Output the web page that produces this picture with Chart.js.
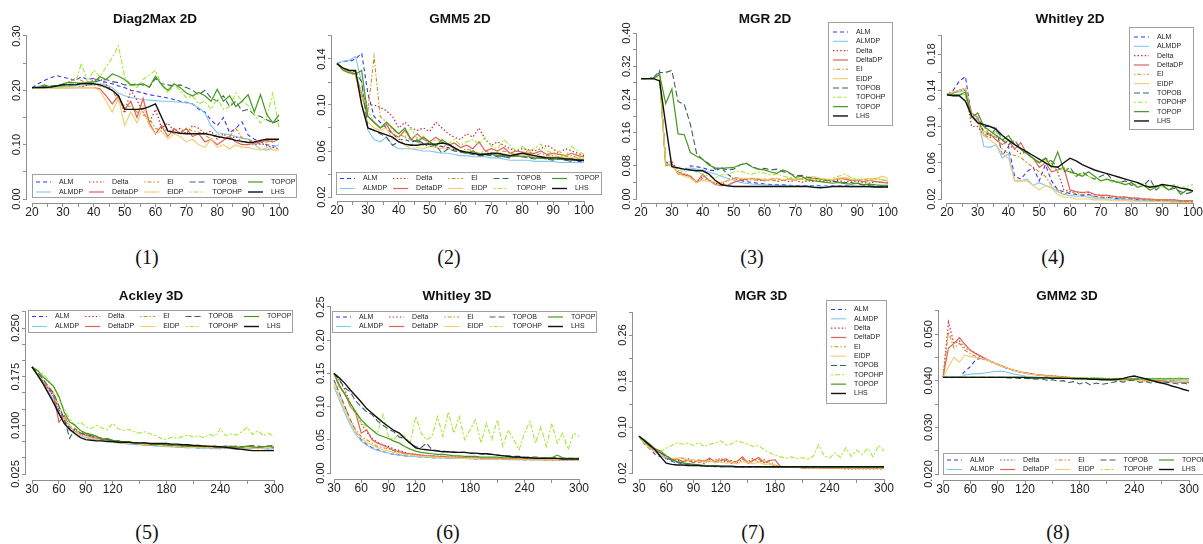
<!DOCTYPE html>
<html>
<head>
<meta charset="utf-8">
<script src="https://cdn.jsdelivr.net/npm/chart.js@4.4.1/dist/chart.umd.min.js"></script>
<style>
  html, body { margin: 0; padding: 0; background: #fff; }
  body { position: relative; width: 1203px; height: 544px; overflow: hidden; }
  canvas { position: absolute; }
  .cap { position: absolute; font: 20px "Liberation Serif", serif; color: #111; transform: translate(-50%, -50%); }
</style>
</head>
<body>
<script>
// ---- data ----
const methods = ['ALM', 'ALMDP', 'Delta', 'DeltaDP', 'EI', 'EIDP', 'TOPOB', 'TOPOHP', 'TOPOP', 'LHS'];

const x2d = [20,22,24,26,28,30,32,34,36,38,40,42,44,46,48,50,52,54,56,58,60,62,64,66,68,70,72,74,76,78,80,82,84,86,88,90,92,94,96,98,100];
const x3d = [30,36,42,48,54,60,66,72,78,84,90,96,102,108,114,120,126,132,138,144,150,156,162,168,174,180,186,192,198,204,210,216,222,228,234,240,246,252,258,264,270,276,282,288,294,300];

const x2dTicks = [20,25,30,35,40,45,50,55,60,65,70,75,80,85,90,95,100];
const x2dLabels = ['20','','30','','40','','50','','60','','70','','80','','90','','100'];
const x3dTicks = [30,60,90,120,150,180,210,240,270,300];
const x3dLabels = ['30','60','90','120','','180','','240','','300'];

// Diag2Max 2D
const diag_yTicks = [0,0.05,0.10,0.15,0.20,0.25,0.30];
const diag_yLabels = ['0.00','','0.10','','0.20','','0.30'];
const diag_ALM = [.205,.212,.218,.223,.227,.224,.222,.218,.225,.220,.222,.218,.215,.212,.208,.205,.200,.198,.195,.192,.190,.188,.186,.183,.180,.178,.175,.165,.160,.145,.135,.150,.122,.130,.142,.118,.110,.106,.100,.098,.095];
const diag_ALMDP = [.205,.205,.205,.206,.206,.207,.207,.208,.208,.209,.210,.212,.210,.205,.195,.190,.187,.185,.183,.182,.181,.180,.180,.179,.178,.177,.175,.168,.158,.135,.122,.120,.118,.115,.112,.110,.100,.092,.090,.095,.100];
const diag_Delta = [.205,.205,.205,.205,.205,.205,.205,.205,.206,.210,.220,.222,.210,.200,.188,.158,.200,.182,.160,.140,.165,.130,.140,.125,.130,.120,.135,.130,.120,.125,.110,.120,.110,.115,.105,.105,.100,.102,.098,.095,.092];
const diag_DeltaDP = [.205,.205,.205,.205,.205,.205,.205,.205,.205,.205,.205,.203,.190,.175,.190,.165,.180,.150,.185,.140,.120,.135,.115,.130,.120,.130,.115,.120,.105,.110,.100,.108,.115,.105,.100,.100,.103,.105,.108,.105,.110];
const diag_EI = [.205,.205,.205,.205,.205,.208,.215,.222,.218,.212,.210,.208,.205,.200,.180,.172,.170,.160,.155,.148,.130,.125,.128,.120,.122,.130,.125,.123,.118,.110,.120,.112,.115,.130,.112,.110,.105,.100,.105,.108,.110];
const diag_EIDP = [.205,.205,.205,.205,.205,.205,.205,.205,.205,.205,.205,.200,.180,.160,.185,.135,.160,.140,.170,.135,.120,.125,.110,.120,.115,.105,.110,.100,.095,.110,.095,.100,.092,.100,.095,.095,.092,.090,.095,.090,.090];
const diag_TOPOB = [.205,.206,.207,.208,.209,.210,.211,.212,.213,.214,.215,.218,.220,.216,.214,.210,.210,.212,.210,.206,.222,.212,.210,.208,.210,.205,.200,.192,.200,.186,.180,.190,.170,.180,.162,.165,.155,.152,.146,.140,.145];
const diag_TOPOHP = [.205,.205,.205,.205,.205,.205,.208,.212,.250,.215,.237,.225,.243,.260,.282,.225,.210,.205,.220,.228,.237,.210,.195,.210,.200,.186,.190,.175,.180,.165,.185,.165,.170,.195,.180,.172,.155,.140,.150,.195,.130];
const diag_TOPOP = [.205,.206,.210,.206,.208,.212,.215,.214,.213,.215,.215,.225,.220,.230,.226,.220,.210,.210,.212,.206,.226,.210,.200,.212,.205,.195,.190,.196,.190,.180,.202,.180,.190,.170,.180,.192,.160,.192,.156,.140,.155];
const diag_LHS = [.205,.205,.205,.206,.208,.210,.210,.210,.212,.212,.212,.210,.206,.200,.190,.165,.165,.165,.166,.170,.175,.150,.125,.123,.121,.120,.120,.120,.120,.118,.115,.113,.111,.108,.106,.104,.105,.108,.110,.110,.110];

// GMM5 2D
const gmm5_yTicks = [0.02,0.04,0.06,0.08,0.10,0.12,0.14,0.16];
const gmm5_yLabels = ['0.02','','0.06','','0.10','','0.14',''];
const gmm5_ALM = [.136,.138,.138,.140,.145,.110,.090,.085,.080,.075,.070,.070,.068,.069,.067,.066,.065,.064,.063,.061,.060,.059,.058,.058,.057,.056,.056,.055,.055,.056,.056,.055,.054,.054,.053,.053,.053,.052,.052,.051,.051];
const gmm5_ALMDP = [.136,.138,.139,.142,.120,.078,.070,.068,.072,.065,.062,.062,.062,.061,.060,.060,.059,.058,.058,.057,.056,.056,.055,.055,.055,.054,.054,.053,.052,.052,.052,.052,.051,.051,.051,.051,.050,.050,.050,.050,.050];
const gmm5_Delta = [.136,.132,.129,.126,.110,.100,.100,.098,.095,.090,.080,.085,.080,.078,.080,.077,.085,.080,.075,.072,.070,.075,.072,.080,.070,.065,.068,.065,.062,.060,.062,.061,.060,.062,.065,.062,.058,.062,.060,.058,.056];
const gmm5_DeltaDP = [.136,.131,.129,.127,.110,.090,.085,.080,.083,.075,.072,.078,.070,.075,.070,.068,.072,.068,.065,.067,.063,.065,.062,.068,.060,.062,.060,.063,.058,.060,.059,.058,.058,.060,.057,.058,.057,.056,.058,.056,.055];
const gmm5_EI = [.136,.131,.129,.125,.105,.095,.142,.090,.085,.080,.075,.072,.070,.068,.065,.068,.065,.063,.066,.062,.060,.062,.060,.058,.060,.058,.057,.060,.058,.057,.058,.060,.056,.058,.056,.056,.055,.055,.056,.054,.055];
const gmm5_EIDP = [.136,.131,.129,.126,.100,.085,.080,.078,.080,.070,.072,.065,.062,.063,.062,.064,.063,.062,.062,.060,.060,.059,.058,.058,.057,.058,.057,.057,.056,.056,.056,.056,.055,.055,.055,.055,.055,.054,.054,.054,.054];
const gmm5_TOPOB = [.136,.132,.130,.129,.120,.080,.078,.075,.072,.065,.068,.066,.065,.070,.066,.064,.065,.058,.062,.060,.059,.058,.057,.056,.056,.057,.055,.055,.054,.056,.055,.054,.053,.054,.053,.052,.053,.052,.051,.052,.051];
const gmm5_TOPOHP = [.136,.132,.130,.130,.110,.095,.085,.080,.085,.078,.075,.072,.080,.070,.073,.065,.070,.068,.066,.070,.065,.068,.070,.066,.072,.064,.062,.070,.065,.060,.064,.060,.062,.066,.060,.058,.060,.055,.064,.060,.057];
const gmm5_TOPOP = [.136,.130,.128,.127,.130,.090,.085,.080,.085,.080,.075,.080,.070,.068,.072,.068,.064,.070,.066,.062,.060,.058,.060,.057,.058,.057,.056,.056,.055,.056,.055,.055,.054,.054,.054,.053,.053,.053,.052,.053,.052];
const gmm5_LHS = [.136,.132,.130,.130,.100,.080,.078,.076,.074,.072,.068,.066,.065,.065,.066,.066,.066,.067,.066,.063,.060,.059,.058,.057,.057,.058,.058,.057,.056,.057,.058,.057,.056,.055,.054,.054,.054,.053,.053,.052,.052];

// MGR 2D
const mgr2_yTicks = [0,0.04,0.08,0.12,0.16,0.20,0.24,0.28,0.32,0.36,0.40];
const mgr2_yLabels = ['0.00','','0.08','','0.16','','0.24','','0.32','','0.40'];
const mgr2_ALM = [.290,.290,.292,.309,.090,.080,.075,.070,.080,.078,.075,.070,.068,.075,.060,.050,.045,.042,.040,.038,.036,.035,.034,.034,.033,.032,.032,.032,.032,.031,.031,.031,.031,.031,.031,.030,.030,.030,.029,.028,.028];
const mgr2_ALMDP = [.290,.290,.290,.305,.085,.080,.075,.070,.075,.072,.070,.065,.060,.055,.050,.045,.040,.038,.036,.035,.034,.033,.033,.032,.032,.031,.031,.031,.030,.030,.030,.030,.030,.030,.029,.029,.029,.029,.028,.028,.028];
const mgr2_Delta = [.290,.290,.290,.300,.082,.092,.065,.060,.055,.040,.055,.045,.038,.035,.045,.050,.048,.045,.050,.045,.044,.048,.042,.046,.042,.045,.040,.044,.042,.045,.040,.042,.045,.040,.044,.042,.040,.038,.042,.040,.040];
const mgr2_DeltaDP = [.290,.290,.290,.300,.080,.085,.060,.058,.055,.040,.060,.045,.035,.032,.033,.040,.045,.048,.050,.048,.045,.048,.050,.045,.048,.045,.050,.052,.050,.048,.045,.046,.050,.048,.045,.046,.042,.045,.042,.040,.038];
const mgr2_EI = [.290,.290,.290,.300,.080,.082,.065,.060,.055,.038,.050,.045,.040,.038,.045,.052,.050,.048,.046,.045,.048,.044,.046,.045,.050,.046,.048,.045,.050,.047,.045,.046,.048,.050,.046,.045,.048,.045,.050,.046,.045];
const mgr2_EIDP = [.290,.290,.290,.300,.085,.080,.062,.055,.050,.040,.045,.042,.040,.040,.045,.048,.050,.050,.048,.050,.046,.048,.050,.046,.048,.045,.050,.052,.054,.050,.048,.046,.050,.052,.048,.046,.048,.050,.048,.055,.050];
const mgr2_TOPOB = [.290,.290,.292,.305,.305,.310,.235,.228,.180,.110,.095,.085,.072,.075,.070,.072,.082,.087,.078,.072,.074,.070,.072,.066,.062,.056,.057,.052,.050,.047,.045,.043,.041,.039,.040,.036,.034,.032,.031,.030,.030];
const mgr2_TOPOHP = [.290,.290,.290,.300,.080,.080,.070,.065,.070,.065,.060,.055,.050,.058,.060,.065,.068,.062,.060,.065,.062,.058,.060,.055,.052,.050,.048,.050,.046,.048,.045,.050,.055,.060,.052,.048,.046,.045,.048,.046,.045];
const mgr2_TOPOP = [.290,.290,.290,.300,.230,.265,.157,.155,.112,.103,.095,.082,.075,.074,.075,.076,.082,.086,.077,.072,.070,.065,.062,.070,.064,.052,.055,.046,.044,.042,.040,.038,.040,.037,.036,.038,.035,.036,.034,.033,.033];
const mgr2_LHS = [.290,.290,.290,.285,.180,.078,.075,.072,.070,.068,.068,.060,.045,.035,.032,.030,.030,.030,.030,.030,.030,.030,.030,.030,.030,.030,.030,.030,.028,.027,.028,.030,.030,.030,.030,.030,.030,.030,.029,.029,.029];

// Whitley 2D
const whit2_yTicks = [0.02,0.04,0.06,0.08,0.10,0.12,0.14,0.16,0.18,0.20];
const whit2_yLabels = ['0.02','','0.06','','0.10','','0.14','','0.18',''];
const whit2_ALM = [.135,.140,.150,.155,.110,.108,.100,.100,.098,.068,.078,.045,.042,.050,.055,.040,.058,.040,.030,.028,.026,.025,.024,.025,.023,.022,.022,.021,.020,.020,.020,.019,.019,.018,.018,.018,.017,.017,.017,.017,.017];
const whit2_ALMDP = [.135,.137,.138,.140,.110,.108,.078,.077,.080,.065,.070,.040,.040,.042,.035,.038,.035,.033,.028,.025,.024,.023,.023,.022,.021,.021,.020,.020,.019,.019,.019,.018,.018,.018,.018,.017,.017,.017,.017,.017,.016];
const whit2_Delta = [.135,.137,.140,.140,.100,.100,.090,.088,.090,.085,.080,.075,.070,.072,.065,.060,.065,.060,.050,.030,.028,.028,.027,.027,.025,.024,.024,.023,.022,.022,.021,.021,.020,.020,.019,.019,.019,.019,.018,.018,.018];
const whit2_DeltaDP = [.135,.137,.140,.142,.115,.110,.090,.092,.085,.080,.085,.075,.082,.070,.065,.055,.060,.050,.052,.055,.030,.028,.027,.028,.025,.024,.024,.023,.022,.022,.021,.021,.020,.020,.019,.019,.019,.019,.018,.018,.018];
const whit2_EI = [.135,.138,.140,.142,.110,.105,.100,.090,.088,.075,.070,.068,.066,.060,.055,.050,.045,.035,.030,.025,.028,.026,.025,.024,.023,.022,.022,.022,.021,.021,.020,.020,.020,.019,.019,.019,.018,.018,.018,.018,.018];
const whit2_EIDP = [.135,.138,.140,.142,.110,.105,.090,.085,.080,.070,.065,.040,.040,.040,.035,.030,.035,.032,.025,.022,.022,.020,.020,.020,.019,.019,.019,.018,.018,.018,.017,.017,.017,.017,.017,.017,.017,.016,.016,.016,.016];
const whit2_TOPOB = [.135,.135,.135,.135,.110,.105,.095,.090,.098,.085,.080,.085,.075,.070,.065,.060,.065,.062,.055,.050,.055,.045,.050,.045,.042,.045,.048,.040,.038,.040,.035,.038,.035,.042,.030,.035,.030,.032,.028,.026,.028];
const whit2_TOPOHP = [.135,.135,.135,.135,.110,.105,.095,.090,.095,.085,.085,.080,.075,.072,.065,.060,.062,.060,.050,.055,.050,.045,.048,.045,.042,.040,.042,.038,.040,.036,.038,.035,.037,.034,.035,.033,.034,.036,.032,.034,.036];
const whit2_TOPOP = [.135,.135,.135,.138,.110,.115,.100,.095,.090,.085,.090,.080,.075,.070,.065,.060,.065,.055,.072,.052,.050,.048,.045,.050,.045,.040,.042,.040,.038,.036,.038,.033,.035,.030,.033,.036,.030,.034,.025,.030,.028];
const whit2_LHS = [.135,.134,.134,.128,.112,.104,.102,.100,.097,.090,.085,.080,.076,.072,.068,.064,.060,.056,.055,.060,.065,.062,.058,.055,.052,.050,.048,.046,.044,.042,.040,.038,.035,.033,.034,.036,.035,.034,.032,.031,.029];

// Ackley 3D
const ack_yTicks = [0.025,0.05,0.075,0.10,0.125,0.15,0.175,0.20,0.225,0.25,0.275];
const ack_yLabels = ['0.025','','','0.100','','','0.175','','','0.250',''];
const ack_ALM = [.190,.178,.168,.158,.145,.125,.108,.095,.088,.085,.082,.080,.079,.077,.078,.075,.074,.073,.072,.071,.070,.071,.069,.070,.068,.069,.067,.068,.066,.067,.066,.065,.066,.064,.065,.064,.065,.066,.065,.064,.066,.065,.064,.066,.065,.064];
const ack_ALMDP = [.190,.176,.165,.152,.140,.120,.102,.092,.088,.084,.081,.079,.078,.076,.075,.074,.073,.072,.071,.070,.070,.069,.069,.068,.068,.067,.067,.066,.066,.065,.066,.065,.064,.065,.064,.064,.065,.064,.063,.064,.065,.064,.065,.064,.063,.064];
const ack_Delta = [.190,.178,.168,.155,.145,.120,.110,.100,.090,.088,.086,.083,.080,.079,.077,.076,.075,.074,.072,.073,.071,.072,.070,.071,.069,.070,.068,.069,.068,.067,.068,.066,.067,.066,.067,.066,.065,.067,.066,.065,.066,.067,.065,.066,.068,.065];
const ack_DeltaDP = [.190,.178,.170,.158,.148,.105,.115,.098,.090,.087,.085,.082,.080,.078,.076,.077,.074,.073,.072,.072,.071,.070,.070,.069,.069,.068,.068,.067,.067,.068,.066,.067,.066,.067,.065,.066,.066,.065,.066,.065,.067,.066,.065,.067,.066,.066];
const ack_EI = [.190,.180,.170,.160,.150,.130,.110,.100,.092,.090,.087,.085,.083,.080,.079,.077,.076,.074,.074,.072,.073,.071,.071,.070,.070,.069,.069,.068,.068,.067,.068,.067,.066,.067,.066,.067,.066,.065,.066,.067,.066,.065,.066,.067,.066,.065];
const ack_EIDP = [.190,.180,.170,.160,.150,.128,.110,.100,.090,.085,.082,.080,.079,.077,.076,.075,.074,.073,.072,.072,.071,.070,.070,.069,.069,.068,.068,.067,.067,.066,.066,.066,.065,.066,.065,.065,.066,.065,.064,.065,.066,.065,.064,.065,.066,.065];
const ack_TOPOB = [.190,.182,.172,.160,.150,.130,.110,.080,.095,.088,.086,.084,.082,.080,.078,.077,.076,.075,.074,.073,.073,.072,.072,.071,.071,.070,.070,.069,.069,.068,.069,.068,.068,.067,.068,.067,.068,.067,.068,.067,.068,.069,.068,.067,.068,.069];
const ack_TOPOHP = [.190,.185,.180,.170,.160,.140,.125,.110,.100,.105,.098,.095,.100,.096,.093,.103,.095,.092,.094,.090,.088,.090,.087,.084,.080,.078,.082,.080,.083,.085,.082,.084,.081,.086,.083,.095,.084,.087,.085,.090,.097,.086,.092,.084,.088,.082];
const ack_TOPOP = [.190,.185,.175,.168,.160,.145,.120,.105,.100,.092,.088,.086,.083,.078,.080,.077,.076,.074,.075,.073,.072,.073,.071,.070,.071,.070,.069,.070,.068,.069,.068,.067,.068,.067,.068,.066,.067,.068,.067,.066,.068,.067,.066,.067,.068,.066];
const ack_LHS = [.190,.178,.165,.150,.135,.118,.103,.094,.087,.081,.078,.077,.076,.076,.075,.075,.074,.074,.074,.073,.073,.073,.072,.072,.072,.072,.071,.071,.070,.070,.069,.069,.068,.068,.067,.067,.066,.065,.064,.063,.062,.061,.061,.061,.061,.061];

// Whitley 3D
const whit3_yTicks = [0,0.05,0.10,0.15,0.20,0.25];
const whit3_yLabels = ['0.00','0.05','0.10','0.15','0.20','0.25'];
const whit3_ALM = [.140,.120,.100,.080,.062,.050,.043,.038,.035,.032,.030,.028,.027,.026,.025,.025,.024,.024,.023,.023,.023,.022,.022,.022,.022,.022,.021,.021,.021,.021,.021,.021,.021,.021,.020,.020,.020,.020,.020,.020,.020,.020,.020,.020,.020,.020];
const whit3_ALMDP = [.130,.110,.090,.072,.058,.048,.042,.037,.034,.032,.030,.028,.027,.026,.025,.025,.024,.024,.023,.023,.023,.022,.022,.022,.022,.021,.021,.021,.021,.021,.021,.021,.020,.020,.020,.020,.020,.020,.020,.020,.020,.020,.020,.020,.020,.020];
const whit3_Delta = [.150,.140,.125,.105,.090,.075,.062,.052,.046,.042,.040,.036,.034,.031,.029,.028,.027,.026,.026,.025,.025,.024,.024,.024,.023,.023,.023,.022,.022,.022,.022,.021,.021,.021,.021,.021,.021,.021,.020,.020,.020,.020,.020,.020,.020,.020];
const whit3_DeltaDP = [.150,.130,.120,.100,.090,.060,.065,.050,.045,.042,.038,.034,.032,.030,.029,.028,.027,.026,.026,.025,.025,.024,.024,.024,.023,.023,.023,.022,.022,.022,.022,.022,.021,.021,.021,.021,.021,.021,.021,.020,.020,.020,.020,.020,.020,.020];
const whit3_EI = [.140,.120,.100,.080,.065,.055,.050,.045,.040,.038,.036,.033,.031,.029,.028,.027,.026,.025,.025,.024,.024,.023,.023,.023,.022,.022,.022,.022,.021,.021,.021,.021,.021,.021,.021,.020,.020,.020,.020,.020,.020,.020,.020,.020,.020,.020];
const whit3_EIDP = [.135,.115,.095,.076,.062,.052,.046,.042,.038,.035,.033,.031,.029,.028,.027,.026,.025,.025,.024,.024,.023,.023,.023,.022,.022,.022,.022,.021,.021,.021,.021,.021,.021,.020,.020,.020,.020,.020,.020,.020,.020,.020,.020,.020,.020,.020];
const whit3_TOPOB = [.150,.140,.128,.122,.108,.100,.092,.088,.078,.072,.066,.062,.054,.052,.044,.040,.038,.045,.035,.034,.033,.032,.032,.031,.031,.030,.029,.029,.028,.028,.027,.026,.026,.025,.025,.024,.024,.024,.023,.023,.023,.023,.022,.022,.022,.022];
const whit3_TOPOHP = [.150,.130,.120,.100,.090,.075,.070,.065,.060,.088,.055,.050,.060,.055,.045,.085,.060,.050,.055,.085,.055,.092,.060,.085,.050,.065,.080,.045,.075,.050,.080,.040,.065,.050,.035,.060,.078,.045,.070,.040,.075,.045,.060,.035,.060,.055];
const whit3_TOPOP = [.150,.132,.118,.105,.092,.080,.072,.065,.058,.055,.052,.048,.045,.040,.036,.033,.031,.030,.029,.028,.028,.027,.026,.026,.025,.025,.025,.024,.024,.024,.024,.023,.023,.023,.023,.023,.023,.023,.023,.023,.023,.027,.023,.022,.022,.022];
const whit3_LHS = [.150,.143,.135,.125,.116,.107,.097,.090,.083,.076,.070,.064,.060,.052,.045,.038,.036,.035,.034,.033,.032,.032,.031,.031,.031,.030,.030,.029,.029,.028,.027,.026,.025,.024,.024,.023,.023,.022,.022,.022,.022,.022,.021,.021,.021,.021];

// MGR 3D
const mgr3_yTicks = [0.02,0.06,0.10,0.14,0.18,0.22,0.26,0.30];
const mgr3_yLabels = ['0.02','','0.10','','0.18','','0.26',''];
const mgr3_ALM = [.084,.070,.062,.052,.048,.045,.040,.038,.036,.035,.034,.033,.032,.032,.031,.031,.031,.031,.030,.030,.030,.030,.030,.030,.030,.030,.030,.030,.030,.030,.030,.030,.030,.030,.030,.030,.030,.030,.030,.030,.030,.030,.030,.030,.030,.030];
const mgr3_ALMDP = [.084,.076,.066,.056,.050,.046,.042,.039,.037,.036,.035,.034,.033,.033,.032,.032,.031,.031,.031,.031,.031,.031,.030,.030,.030,.030,.030,.030,.030,.030,.030,.030,.030,.030,.030,.030,.030,.030,.030,.030,.030,.030,.030,.030,.030,.030];
const mgr3_Delta = [.084,.074,.066,.058,.055,.050,.045,.042,.040,.045,.038,.042,.036,.044,.040,.046,.038,.042,.037,.044,.039,.046,.038,.043,.036,.032,.031,.030,.030,.030,.029,.029,.029,.028,.028,.028,.028,.028,.027,.027,.027,.027,.027,.027,.027,.027];
const mgr3_DeltaDP = [.084,.072,.065,.060,.055,.048,.043,.045,.040,.042,.038,.043,.040,.046,.038,.041,.045,.037,.040,.048,.037,.042,.047,.038,.042,.043,.031,.030,.030,.030,.029,.029,.029,.029,.028,.028,.028,.028,.028,.028,.028,.028,.028,.028,.028,.028];
const mgr3_EI = [.084,.073,.064,.057,.053,.047,.044,.042,.046,.040,.043,.038,.042,.040,.044,.039,.042,.038,.041,.045,.038,.040,.044,.037,.040,.034,.031,.030,.030,.030,.029,.029,.029,.029,.029,.029,.029,.028,.028,.028,.028,.028,.028,.028,.028,.028];
const mgr3_EIDP = [.084,.071,.063,.056,.052,.048,.045,.046,.047,.042,.044,.040,.039,.042,.038,.040,.037,.039,.036,.040,.038,.036,.039,.035,.036,.033,.031,.031,.030,.030,.030,.030,.029,.029,.029,.029,.029,.029,.029,.029,.029,.029,.029,.029,.029,.029];
const mgr3_TOPOB = [.084,.075,.068,.060,.055,.048,.042,.039,.037,.036,.034,.033,.033,.032,.032,.031,.031,.031,.031,.031,.031,.031,.031,.030,.030,.030,.030,.030,.030,.030,.030,.030,.030,.030,.030,.030,.030,.030,.030,.030,.030,.030,.030,.030,.030,.030];
const mgr3_TOPOHP = [.084,.072,.066,.060,.058,.063,.068,.073,.070,.072,.068,.073,.066,.070,.072,.076,.069,.071,.076,.073,.070,.066,.068,.060,.055,.051,.048,.046,.048,.045,.047,.044,.049,.069,.050,.046,.055,.047,.064,.049,.060,.052,.063,.048,.068,.058];
const mgr3_TOPOP = [.084,.078,.070,.062,.058,.050,.044,.040,.038,.036,.035,.034,.033,.032,.032,.031,.031,.031,.031,.031,.031,.031,.031,.030,.030,.030,.030,.030,.030,.030,.030,.030,.030,.030,.030,.030,.030,.030,.030,.030,.030,.030,.030,.030,.030,.030];
const mgr3_LHS = [.084,.076,.068,.060,.048,.037,.035,.034,.034,.033,.033,.033,.032,.032,.032,.032,.032,.032,.031,.031,.031,.031,.031,.031,.031,.031,.031,.031,.031,.031,.031,.031,.031,.031,.031,.031,.031,.031,.031,.031,.031,.031,.031,.031,.031,.031];

// GMM2 3D
const gmm2_yTicks = [0.020,0.025,0.030,0.035,0.040,0.045,0.050,0.055];
const gmm2_yLabels = ['0.020','','0.030','','0.040','','0.050',''];
const gmm2_ALM = [.0407,.0407,.0407,.0407,.0420,.0430,.0445,.0448,.0445,.0440,.0435,.0430,.0425,.0422,.0419,.0416,.0414,.0412,.0411,.0410,.0409,.0408,.0407,.0406,.0405,.0405,.0404,.0404,.0403,.0403,.0403,.0402,.0402,.0402,.0402,.0402,.0401,.0401,.0400,.0400,.0399,.0399,.0399,.0398,.0398,.0398];
const gmm2_ALMDP = [.0407,.0407,.0407,.0407,.0412,.0414,.0415,.0415,.0417,.0419,.0420,.0420,.0417,.0414,.0412,.0410,.0409,.0408,.0407,.0407,.0406,.0406,.0405,.0405,.0405,.0404,.0404,.0404,.0403,.0403,.0403,.0402,.0402,.0402,.0401,.0401,.0401,.0400,.0400,.0400,.0400,.0399,.0399,.0400,.0399,.0400];
const gmm2_Delta = [.0407,.0525,.0480,.0485,.0470,.0465,.0458,.0450,.0445,.0440,.0435,.0430,.0426,.0422,.0419,.0417,.0415,.0413,.0412,.0411,.0410,.0409,.0408,.0407,.0406,.0405,.0405,.0404,.0404,.0403,.0403,.0403,.0402,.0402,.0402,.0401,.0401,.0400,.0400,.0399,.0399,.0398,.0399,.0398,.0397,.0396];
const gmm2_DeltaDP = [.0407,.0470,.0480,.0492,.0478,.0465,.0458,.0452,.0446,.0440,.0435,.0430,.0426,.0422,.0419,.0417,.0415,.0413,.0412,.0411,.0410,.0409,.0408,.0407,.0406,.0405,.0405,.0404,.0404,.0403,.0403,.0402,.0402,.0402,.0401,.0401,.0400,.0400,.0400,.0399,.0399,.0398,.0398,.0397,.0398,.0397];
const gmm2_EI = [.0407,.0505,.0470,.0480,.0465,.0458,.0452,.0447,.0443,.0440,.0435,.0430,.0426,.0422,.0419,.0416,.0414,.0413,.0411,.0410,.0409,.0408,.0407,.0406,.0406,.0405,.0404,.0404,.0403,.0403,.0402,.0402,.0402,.0401,.0401,.0401,.0400,.0400,.0399,.0399,.0399,.0398,.0398,.0398,.0397,.0398];
const gmm2_EIDP = [.0407,.0430,.0450,.0440,.0455,.0452,.0450,.0448,.0445,.0440,.0435,.0430,.0426,.0422,.0419,.0416,.0414,.0413,.0411,.0410,.0409,.0408,.0407,.0406,.0405,.0405,.0404,.0404,.0403,.0403,.0402,.0402,.0402,.0401,.0401,.0400,.0400,.0399,.0399,.0398,.0397,.0396,.0397,.0398,.0398,.0399];
const gmm2_TOPOB = [.0407,.0407,.0407,.0407,.0407,.0407,.0407,.0407,.0407,.0407,.0407,.0407,.0406,.0406,.0405,.0405,.0404,.0403,.0404,.0401,.0402,.0399,.0400,.0396,.0398,.0393,.0397,.0391,.0395,.0392,.0394,.0396,.0399,.0397,.0400,.0401,.0396,.0398,.0395,.0397,.0394,.0396,.0395,.0393,.0395,.0392];
const gmm2_TOPOHP = [.0407,.0407,.0407,.0407,.0407,.0407,.0407,.0407,.0407,.0407,.0407,.0407,.0407,.0407,.0407,.0407,.0407,.0407,.0406,.0406,.0406,.0406,.0406,.0406,.0406,.0406,.0406,.0406,.0406,.0405,.0405,.0405,.0405,.0405,.0405,.0405,.0405,.0405,.0405,.0405,.0405,.0405,.0405,.0406,.0405,.0406];
const gmm2_TOPOP = [.0407,.0407,.0407,.0407,.0407,.0407,.0407,.0407,.0407,.0407,.0407,.0407,.0407,.0407,.0407,.0407,.0406,.0406,.0406,.0406,.0406,.0406,.0405,.0405,.0405,.0405,.0405,.0405,.0405,.0405,.0404,.0404,.0404,.0404,.0404,.0404,.0404,.0404,.0404,.0404,.0404,.0404,.0404,.0404,.0404,.0404];
const gmm2_LHS = [.0407,.0407,.0407,.0407,.0407,.0407,.0407,.0407,.0407,.0407,.0407,.0407,.0407,.0407,.0407,.0407,.0406,.0406,.0406,.0406,.0405,.0405,.0405,.0405,.0404,.0404,.0404,.0403,.0403,.0402,.0402,.0402,.0403,.0405,.0408,.0410,.0407,.0404,.0401,.0398,.0395,.0392,.0388,.0385,.0381,.0378];

// ---- styles ----
const styles = {
  ALM:     { color: '#3535f5', dash: [4, 3], width: 1.1 },
  ALMDP:   { color: '#82c8ee', dash: [], width: 1.1 },
  Delta:   { color: '#c4262b', dash: [1.4, 2.2], width: 1.2 },
  DeltaDP: { color: '#e0605c', dash: [], width: 1.2 },
  EI:      { color: '#c98f1f', dash: [1.4, 2, 4, 2], width: 1.1 },
  EIDP:    { color: '#f3cb6c', dash: [], width: 1.1 },
  TOPOB:   { color: '#3d6060', dash: [6, 3], width: 1.1 },
  TOPOHP:  { color: '#a2ea34', dash: [2, 2, 5, 2], width: 1.1 },
  TOPOP:   { color: '#46991c', dash: [], width: 1.2 },
  LHS:     { color: '#111111', dash: [], width: 1.4 }
};

const FONT = '"Liberation Sans", Arial, sans-serif';
const AXIS_COL = '#8e8e8e';

// legend drawn like R's legend(): columns filled top to bottom
const rLegend = {
  id: 'rLegend',
  afterDraw(chart, args, o) {
    const ctx = chart.ctx;
    const ds = chart.data.datasets;
    const nrow = Math.ceil(ds.length / o.ncol);
    ctx.save();
    ctx.fillStyle = '#fff';
    ctx.fillRect(o.x, o.y, o.w, o.h);
    ctx.strokeStyle = '#a0a0a0';
    ctx.lineWidth = 1;
    ctx.strokeRect(Math.round(o.x) + 0.5, Math.round(o.y) + 0.5, Math.round(o.w), Math.round(o.h));
    ctx.font = o.font + 'px ' + FONT;
    ctx.textBaseline = 'middle';
    ctx.textAlign = 'left';
    let cx = o.x + o.padL;
    for (let c = 0; c < o.ncol; c++) {
      let tw = 0;
      for (let r = 0; r < nrow; r++) {
        const d = ds[c * nrow + r];
        if (!d) continue;
        const y = o.y + o.first + r * o.rowH;
        ctx.strokeStyle = d.borderColor;
        ctx.lineWidth = d.borderWidth;
        ctx.setLineDash(d.borderDash);
        ctx.beginPath();
        ctx.moveTo(cx, y);
        ctx.lineTo(cx + o.seg, y);
        ctx.stroke();
        ctx.fillStyle = '#222';
        ctx.fillText(d.label, cx + o.seg + o.gap, y);
        tw = Math.max(tw, ctx.measureText(d.label).width);
      }
      cx += o.seg + o.gap + tw + o.colGap;
    }
    ctx.restore();
  }
};

// R style axis lines, running from the first tick to the last one
const rAxes = {
  id: 'rAxes',
  afterDraw(chart) {
    const { ctx, chartArea: a, scales: { x, y } } = chart;
    const xt = x.ticks, yt = y.ticks;
    ctx.save();
    ctx.strokeStyle = AXIS_COL;
    ctx.lineWidth = 1;
    ctx.beginPath();
    ctx.moveTo(x.getPixelForValue(xt[0].value), a.bottom + 0.5);
    ctx.lineTo(x.getPixelForValue(xt[xt.length - 1].value), a.bottom + 0.5);
    ctx.moveTo(a.left - 0.5, y.getPixelForValue(yt[0].value));
    ctx.lineTo(a.left - 0.5, y.getPixelForValue(yt[yt.length - 1].value));
    ctx.stroke();
    ctx.restore();
  }
};

const plots = [
  { title: 'Diag2Max 2D', top: 0, titleX: 155, titleY: 19, yAxisX: 27, xAxisY: 203,
    xVal: [20, 100], xPix: [32, 279], yVal: [0, 0.30], yPix: [199, 36],
    xs: x2d, xTicks: x2dTicks, xLabels: x2dLabels, yTicks: diag_yTicks, yLabels: diag_yLabels,
    series: [diag_ALM, diag_ALMDP, diag_Delta, diag_DeltaDP, diag_EI, diag_EIDP, diag_TOPOB, diag_TOPOHP, diag_TOPOP, diag_LHS],
    legend: { x: 32, y: 174, w: 264, h: 23, ncol: 5, first: 8, rowH: 10 } },
  { title: 'GMM5 2D', top: 0, titleX: 460, titleY: 19, yAxisX: 332, xAxisY: 201,
    xVal: [20, 100], xPix: [337, 584], yVal: [0.02, 0.14], yPix: [197, 59],
    xs: x2d, xTicks: x2dTicks, xLabels: x2dLabels, yTicks: gmm5_yTicks, yLabels: gmm5_yLabels,
    series: [gmm5_ALM, gmm5_ALMDP, gmm5_Delta, gmm5_DeltaDP, gmm5_EI, gmm5_EIDP, gmm5_TOPOB, gmm5_TOPOHP, gmm5_TOPOP, gmm5_LHS],
    legend: { x: 336, y: 172, w: 265, h: 22, ncol: 5, first: 6.5, rowH: 10 } },
  { title: 'MGR 2D', top: 0, titleX: 765, titleY: 19, yAxisX: 637, xAxisY: 203,
    xVal: [20, 100], xPix: [641, 888], yVal: [0, 0.40], yPix: [199, 33],
    xs: x2d, xTicks: x2dTicks, xLabels: x2dLabels, yTicks: mgr2_yTicks, yLabels: mgr2_yLabels,
    series: [mgr2_ALM, mgr2_ALMDP, mgr2_Delta, mgr2_DeltaDP, mgr2_EI, mgr2_EIDP, mgr2_TOPOB, mgr2_TOPOHP, mgr2_TOPOP, mgr2_LHS],
    legend: { x: 828, y: 22, w: 64, h: 103, ncol: 1, first: 10, rowH: 9.33 } },
  { title: 'Whitley 2D', top: 0, titleX: 1070, titleY: 19, yAxisX: 942, xAxisY: 203,
    xVal: [20, 100], xPix: [947, 1193], yVal: [0.02, 0.18], yPix: [199, 54],
    xs: x2d, xTicks: x2dTicks, xLabels: x2dLabels, yTicks: whit2_yTicks, yLabels: whit2_yLabels,
    series: [whit2_ALM, whit2_ALMDP, whit2_Delta, whit2_DeltaDP, whit2_EI, whit2_EIDP, whit2_TOPOB, whit2_TOPOHP, whit2_TOPOP, whit2_LHS],
    legend: { x: 1129, y: 27, w: 64, h: 102, ncol: 1, first: 10, rowH: 9.33 } },
  { title: 'Ackley 3D', top: 278, titleX: 151, titleY: 296, yAxisX: 26, xAxisY: 480,
    xVal: [30, 300], xPix: [32, 274], yVal: [0.025, 0.250], yPix: [474, 328],
    xs: x3d, xTicks: x3dTicks, xLabels: x3dLabels, yTicks: ack_yTicks, yLabels: ack_yLabels,
    series: [ack_ALM, ack_ALMDP, ack_Delta, ack_DeltaDP, ack_EI, ack_EIDP, ack_TOPOB, ack_TOPOHP, ack_TOPOP, ack_LHS],
    legend: { x: 28, y: 310, w: 264, h: 22, ncol: 5, first: 6.5, rowH: 10 } },
  { title: 'Whitley 3D', top: 278, titleX: 457, titleY: 296, yAxisX: 331, xAxisY: 479,
    xVal: [30, 300], xPix: [334, 579], yVal: [0, 0.25], yPix: [473, 307],
    xs: x3d, xTicks: x3dTicks, xLabels: x3dLabels, yTicks: whit3_yTicks, yLabels: whit3_yLabels,
    series: [whit3_ALM, whit3_ALMDP, whit3_Delta, whit3_DeltaDP, whit3_EI, whit3_EIDP, whit3_TOPOB, whit3_TOPOHP, whit3_TOPOP, whit3_LHS],
    legend: { x: 332, y: 311, w: 264, h: 21, ncol: 5, first: 6, rowH: 9.5 } },
  { title: 'MGR 3D', top: 278, titleX: 761, titleY: 296, yAxisX: 633, xAxisY: 479,
    xVal: [30, 300], xPix: [639, 884], yVal: [0.02, 0.26], yPix: [473, 335],
    xs: x3d, xTicks: x3dTicks, xLabels: x3dLabels, yTicks: mgr3_yTicks, yLabels: mgr3_yLabels,
    series: [mgr3_ALM, mgr3_ALMDP, mgr3_Delta, mgr3_DeltaDP, mgr3_EI, mgr3_EIDP, mgr3_TOPOB, mgr3_TOPOHP, mgr3_TOPOP, mgr3_LHS],
    legend: { x: 826, y: 300, w: 60, h: 103, ncol: 1, first: 9.5, rowH: 9.33 } },
  { title: 'GMM2 3D', top: 278, titleX: 1067, titleY: 296, yAxisX: 939, xAxisY: 480,
    xVal: [30, 300], xPix: [943, 1189], yVal: [0.020, 0.050], yPix: [474, 334],
    xs: x3d, xTicks: x3dTicks, xLabels: x3dLabels, yTicks: gmm2_yTicks, yLabels: gmm2_yLabels,
    series: [gmm2_ALM, gmm2_ALMDP, gmm2_Delta, gmm2_DeltaDP, gmm2_EI, gmm2_EIDP, gmm2_TOPOB, gmm2_TOPOHP, gmm2_TOPOP, gmm2_LHS],
    legend: { x: 943, y: 453, w: 268, h: 21, ncol: 5, first: 7, rowH: 9.5 } }
];

const captions = [
  ['(1)', 147, 257], ['(2)', 449, 257], ['(3)', 752, 257], ['(4)', 1053, 257],
  ['(5)', 147, 532], ['(6)', 448, 532], ['(7)', 753, 532], ['(8)', 1058, 532]
];

const measureCtx = document.createElement('canvas').getContext('2d');
function widest(list, size) {
  measureCtx.font = size + 'px ' + FONT;
  return Math.max(...list.map(t => measureCtx.measureText(t).width));
}

const Y_W = 22, X_H = 20, PAD = 2, TICK = 4, H = 230;
const TFONT = 13.5;

plots.forEach(p => {
  const cl = p.yAxisX - Y_W - PAD;              // canvas left on the page
  const W = Math.round(2 * (p.titleX - cl));
  const cv = document.createElement('canvas');
  cv.width = W; cv.height = H;
  cv.style.left = cl + 'px'; cv.style.top = p.top + 'px';
  cv.style.width = W + 'px'; cv.style.height = H + 'px';
  document.body.appendChild(cv);

  // map wanted page pixels to scale ranges
  const rightPage = cl + W - PAD;
  const sx = (p.xPix[1] - p.xPix[0]) / (p.xVal[1] - p.xVal[0]);
  const xmin = p.xVal[0] - (p.xPix[0] - p.yAxisX) / sx;
  const xmax = p.xVal[1] + (rightPage - p.xPix[1]) / sx;
  const sy = (p.yPix[0] - p.yPix[1]) / (p.yVal[1] - p.yVal[0]);
  const topTick = p.yTicks[p.yTicks.length - 1];
  const topPage = p.yPix[0] - (topTick - p.yVal[0]) * sy - 3;
  const ymin = p.yVal[0] - (p.xAxisY - p.yPix[0]) / sy;
  const ymax = p.yVal[0] + (p.yPix[0] - topPage) / sy;

  const tPadTop = (p.titleY - p.top) - TFONT / 2;
  const tPadBottom = (topPage - p.top) - tPadTop - TFONT;
  const padBottom = H - (p.xAxisY - p.top) - X_H;
  const yPad = 10 - TICK - widest(p.yLabels, 11) / 2;

  const lg = Object.assign({ font: 7, padL: 4, seg: 15, gap: 8, colGap: 6 }, p.legend);
  lg.x -= cl; lg.y -= p.top;
  if (lg.ncol === 1) { lg.padL = 5; }

  const datasets = methods.map((m, k) => ({
    label: m,
    data: p.xs.map((x, i) => ({ x: x, y: p.series[k][i] })),
    borderColor: styles[m].color,
    borderDash: styles[m].dash,
    borderWidth: styles[m].width,
    pointRadius: 0,
    tension: 0,
    fill: false,
    order: methods.length - k
  }));

  new Chart(cv, {
    type: 'line',
    data: { datasets },
    options: {
      responsive: false,
      animation: false,
      devicePixelRatio: 1,
      layout: { autoPadding: false, padding: { left: PAD, right: PAD, top: 0, bottom: padBottom } },
      plugins: {
        legend: { display: false },
        tooltip: { enabled: false },
        title: {
          display: true, text: p.title, color: '#111', fullSize: true,
          font: { family: FONT, size: TFONT, weight: 'bold', lineHeight: 1 },
          padding: { top: tPadTop, bottom: tPadBottom }
        },
        rLegend: lg
      },
      scales: {
        x: {
          type: 'linear', min: xmin, max: xmax, bounds: 'data',
          afterBuildTicks: s => { s.ticks = p.xTicks.map(v => ({ value: v })); },
          afterFit: s => { s.height = X_H; s.paddingLeft = 0; s.paddingRight = 0; s.paddingTop = 0; s.paddingBottom = 0; },
          ticks: {
            callback: (v, i) => p.xLabels[i],
            autoSkip: false, maxRotation: 0, minRotation: 0, padding: -2,
            font: { family: FONT, size: 12 }, color: '#222'
          },
          grid: { drawOnChartArea: false, drawTicks: true, tickLength: TICK, color: AXIS_COL },
          border: { display: false }
        },
        y: {
          type: 'linear', min: ymin, max: ymax, bounds: 'data',
          afterBuildTicks: s => { s.ticks = p.yTicks.map(v => ({ value: v })); },
          afterFit: s => { s.width = Y_W; s.paddingLeft = 0; s.paddingRight = 0; s.paddingTop = 0; s.paddingBottom = 0; },
          ticks: {
            callback: (v, i) => p.yLabels[i],
            autoSkip: false, minRotation: 90, maxRotation: 90, crossAlign: 'center', padding: yPad,
            font: { family: FONT, size: 11 }, color: '#222'
          },
          grid: { drawOnChartArea: false, drawTicks: true, tickLength: TICK, color: AXIS_COL },
          border: { display: false }
        }
      }
    },
    plugins: [rAxes, rLegend]
  });
});

captions.forEach(([t, x, y]) => {
  const d = document.createElement('div');
  d.className = 'cap';
  d.textContent = t;
  d.style.left = x + 'px';
  d.style.top = y + 'px';
  document.body.appendChild(d);
});
</script>
</body>
</html>
